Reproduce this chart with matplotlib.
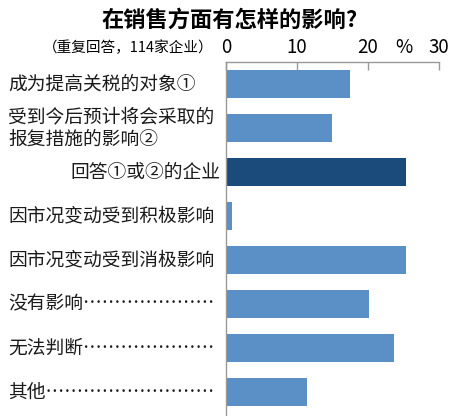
import matplotlib.pyplot as plt
import matplotlib.transforms as mtransforms

plt.rcParams['font.family'] = ['Noto Sans CJK SC', 'DejaVu Sans']

# data (percent of 114 companies)
categories = [
    '成为提高关税的对象①',
    '受到今后预计将会采取的\n报复措施的影响②',
    '回答①或②的企业',
    '因市况变动受到积极影响',
    '因市况变动受到消极影响',
    '没有影响' + '…' * 7,
    '无法判断' + '…' * 7,
    '其他' + '…' * 9,
]
values = [17.5, 14.9, 25.4, 0.9, 25.4, 20.2, 23.7, 11.4]
highlight = [False, False, True, False, False, False, False, False]
x_ticks = [0, 10, 20, 30]

light = '#5b90c6'
dark = '#1b4b7b'

fig = plt.figure(figsize=(4.5, 4.16), dpi=100)
ax = fig.add_axes([226 / 450, 0, 213 / 450, 1 - 62 / 416])

ypos = list(range(len(categories)))
colors = [dark if h else light for h in highlight]
ax.barh(ypos, values, height=0.64, color=colors)

ax.set_xlim(0, 30)
ax.set_ylim(len(categories) - 0.455, -0.5)

# x axis on top, ticks pointing in
ax.xaxis.tick_top()
ax.set_xticks(x_ticks)
ax.set_xticklabels([str(t) for t in x_ticks])
ax.set_xticks([25], minor=True)
ax.set_xticklabels(['%'], minor=True)
ax.tick_params(axis='x', which='major', direction='in', length=6, width=1,
               color='#999999', pad=3, labelsize=13.5)
ax.tick_params(axis='x', which='minor', length=0, pad=3, labelsize=13.5)
ax.set_yticks([])

for s in ['right', 'bottom']:
    ax.spines[s].set_visible(False)
for s in ['top', 'left']:
    ax.spines[s].set_color('#999999')
    ax.spines[s].set_linewidth(1)

# category labels to the left of the axis
trans = mtransforms.blended_transform_factory(fig.transFigure, ax.transData)
for i, lab in enumerate(categories):
    if highlight[i]:
        ax.text(220 / 450, i, lab, transform=trans, ha='right', va='center',
                fontsize=13.5, linespacing=1.05, color='#1a1a1a')
    else:
        ax.text(8 / 450, i, lab, transform=trans, ha='left', va='center',
                fontsize=13.5, linespacing=1.05, color='#1a1a1a')

fig.text(230 / 450, 1 - 20 / 416, '在销售方面有怎样的影响?', ha='center', va='center',
         fontsize=16, fontweight='bold')
fig.text(128 / 450, 1 - 48 / 416, '（重复回答，114家企业）', ha='center', va='center',
         fontsize=10.5)

plt.savefig('out.png', dpi=100)
